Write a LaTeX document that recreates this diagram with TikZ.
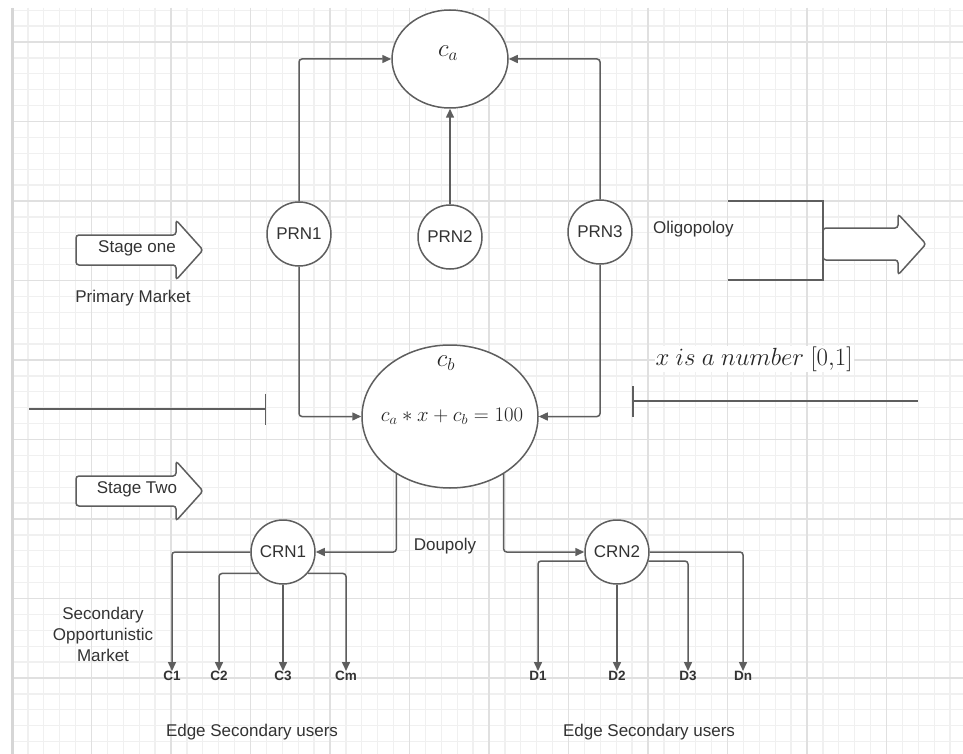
\documentclass[tikz,border=0pt]{standalone}
\usepackage[no-math]{fontspec}
\setmainfont{Liberation Sans}
\usetikzlibrary{shapes.geometric,arrows.meta}
\definecolor{linec}{HTML}{5E5E5E}
\definecolor{txtc}{HTML}{333333}
\definecolor{gridminor}{HTML}{F0F0F0}
\definecolor{gridmajor}{HTML}{E0E0E0}
\definecolor{gridborder}{HTML}{D6D6D6}
\begin{document}
\begin{tikzpicture}[x=1pt,y=-1pt,
  conn/.style={draw=linec,line width=1.5pt,rounded corners=3pt,-{Triangle[length=9pt,width=8pt]}},
  plain/.style={draw=linec,line width=1.5pt},
  rn/.style={circle,draw=linec,line width=1.5pt,fill=white,minimum size=64pt,inner sep=0pt,font=\fontsize{17}{20}\selectfont,text=txtc},
  ell/.style={ellipse,draw=linec,line width=1.5pt,fill=white,inner sep=0pt},
  txt/.style={font=\fontsize{17}{21}\selectfont,text=txtc,inner sep=1pt},
  mth/.style={font=\fontsize{23}{28}\selectfont,text=black!85,inner sep=1pt},
  eqn/.style={font=\fontsize{21.5}{26}\selectfont,text=black!85,inner sep=1pt},
  lab/.style={font=\fontsize{13.5}{16}\selectfont\bfseries,text=txtc,inner sep=0pt},
  blk/.style={draw=linec,line width=1.5pt,fill=white,rounded corners=3pt}]
% background and bounding box
\fill[white] (0,0) rectangle (963,754);
\useasboundingbox (0,0) rectangle (963,754);
% grid
\begin{scope}
\clip (12,8) rectangle (963,754);
\foreach \k in {0,...,60} {
  \pgfmathsetmacro\xx{12+15.9*\k}
  \draw[gridminor,line width=1.3pt] (\xx,8) -- (\xx,754);
}
\foreach \k in {-2,...,45} {
  \pgfmathsetmacro\yy{42+15.9*\k}
  \draw[gridminor,line width=1.3pt] (12,\yy) -- (963,\yy);
}
\foreach \k in {0,...,12} {
  \pgfmathsetmacro\xx{12+79.5*\k}
  \draw[gridmajor,line width=1.5pt] (\xx,8) -- (\xx,754);
}
\foreach \k in {0,...,9} {
  \pgfmathsetmacro\yy{42+79.5*\k}
  \draw[gridmajor,line width=1.5pt] (12,\yy) -- (963,\yy);
}
\end{scope}
\draw[gridborder,line width=2.5pt] (12.5,8) -- (12.5,754);

% main nodes
\node[ell,minimum width=116pt,minimum height=98pt] (ca) at (450,59) {};
\node[mth] (calab) at (448,53) {$c_a$};
\node[rn] (prn1) at (299,234) {PRN1};
\node[rn] (prn2) at (450,237) {PRN2};
\node[rn] (prn3) at (600,232) {PRN3};
\node[ell,minimum width=176pt,minimum height=143pt] (cb) at (450,416.5) {};
\node[mth] (cblab) at (446,363) {$c_b$};
\node[eqn] (eq) at (452,416) {$c_a * x + c_b = 100$};
\node[rn] (crn1) at (283,552) {CRN1};
\node[rn] (crn2) at (617,552) {CRN2};

% leaf labels
\node[lab,anchor=north] (c1) at (172,671) {C1};
\node[lab,anchor=north] (c2) at (219,671) {C2};
\node[lab,anchor=north] (c3) at (283,671) {C3};
\node[lab,anchor=north] (cm) at (346,671) {Cm};
\node[lab,anchor=north] (d1) at (538,671) {D1};
\node[lab,anchor=north] (d2) at (617,671) {D2};
\node[lab,anchor=north] (d3) at (688,671) {D3};
\node[lab,anchor=north] (dn) at (743,671) {Dn};

% connectors
\draw[conn] (prn1.north) |- (ca.west);
\draw[conn] (prn3.north) |- (ca.east);
\draw[conn] (prn2.north) -- (ca.south);
\draw[conn] (prn1.south) |- (cb.west);
\draw[conn] (prn3.south) |- (cb.east);
\draw[conn] (cb.227) |- (crn1.east);
\draw[conn] (cb.313) |- (crn2.west);
\draw[conn] (crn1.west) -| (c1.north);
\draw[conn] (crn1.221) -| (c2.north);
\draw[conn] (crn1.south) -- (c3.north);
\draw[conn] (crn1.319) -| (cm.north);
\draw[conn] (crn2.196) -| (d1.north);
\draw[conn] (crn2.south) -- (d2.north);
\draw[conn] (crn2.344) -| (d3.north);
\draw[conn] (crn2.east) -| (dn.north);

% stage arrows
\draw[blk] (203,250) -- (176,220) -- (176,235) -- (76,235) -- (76,265) -- (176,265) -- (176,280) -- cycle;
\node[txt] (st1) at (137,248) {Stage one};
\node[txt] (pm) at (133,298) {Primary Market};
\draw[blk] (203,491) -- (176,461) -- (176,476) -- (76,476) -- (76,506) -- (176,506) -- (176,521) -- cycle;
\node[txt] (st2) at (137,489) {Stage Two};

% separator lines
\coordinate (la) at (29,409);
\coordinate (lb) at (266,409);
\draw[plain,-{Bar[width=31pt,line width=1.5pt]}] (la) -- (lb);
\coordinate (ra) at (632,401);
\coordinate (rb) at (918,401);
\draw[plain,{Bar[width=31pt,line width=1.5pt]}-] (ra) -- (rb);
\node[mth,fill=white] (xnum) at (754,359) {$x\ is\ a\ number\ [0{,}1]$};

% oligopoly bracket and arrow
\node[txt,anchor=west] (olig) at (652,229) {Oligopoloy};
\coordinate (ob1) at (728,201);
\coordinate (ob2) at (823,280);
\coordinate (ob3) at (728,280);
\draw[plain] (ob1) -| (ob2) -- (ob3);
\draw[blk] (926,244) -- (898,214) -- (898,228) -- (823,228) -- (823,260) -- (898,260) -- (898,275) -- cycle;

% other labels
\node[txt,align=center] (som) at (103,634) {Secondary\\Opportunistic\\Market};
\node[txt] (doup) at (445,546) {Doupoly};
\node[txt] (esu1) at (252,732) {Edge Secondary users};
\node[txt] (esu2) at (649,732) {Edge Secondary users};
\end{tikzpicture}
\end{document}
